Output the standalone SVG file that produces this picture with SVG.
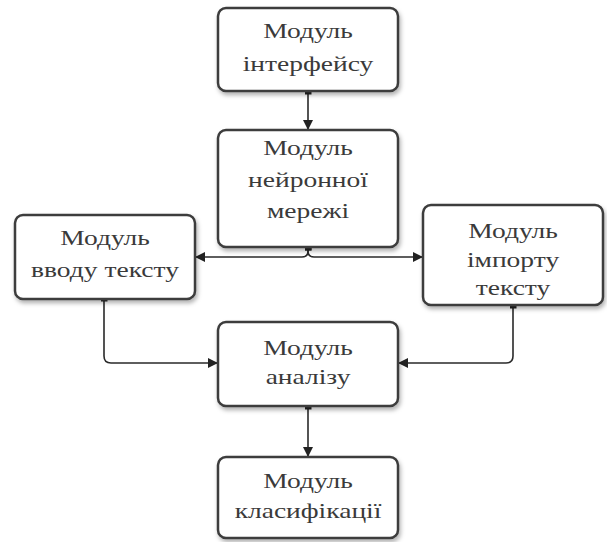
<svg xmlns="http://www.w3.org/2000/svg" width="607" height="542" viewBox="0 0 607 542">
<style>
.box{fill:#fff;stroke:#3c3c3c;stroke-width:2.5;filter:url(#sh)}
.lbl{font-family:"Liberation Serif","Times New Roman",serif;font-size:22px;fill:#3a3a3a;text-anchor:middle}
.con{fill:none;stroke:#2a2a2a;stroke-width:1.6;marker-start:url(#sq);marker-end:url(#ar)}
</style>
<defs>
<filter id="sh" x="-10%" y="-10%" width="125%" height="130%">
<feDropShadow dx="1.5" dy="3" stdDeviation="2.2" flood-color="#000" flood-opacity="0.3"/>
</filter>
<marker id="ar" markerUnits="userSpaceOnUse" markerWidth="11" markerHeight="11" refX="10" refY="5" orient="auto" viewBox="0 0 11 11">
<path d="M0,0 L10,5 L0,10 z" fill="#222"/>
</marker>
<marker id="sq" markerUnits="userSpaceOnUse" markerWidth="7" markerHeight="7" refX="3.5" refY="3.5" orient="auto" viewBox="0 0 7 7">
<rect x="0" y="0" width="7" height="7" fill="#222"/>
</marker>
</defs>
<g id="connectors">
<path class="con" d="M308,91 V130"/>
<path class="con" d="M308,247 V251 Q308,257 302,257 H195"/>
<path class="con" d="M308,247 V251 Q308,257 314,257 H423"/>
<path class="con" d="M104,298 V356 Q104,363 111,363 H218"/>
<path class="con" d="M513,305 V356 Q513,363 506,363 H398"/>
<path class="con" d="M308,406 V457"/>
</g>
<g id="n-interface">
<rect class="box" x="218" y="8" width="180" height="83" rx="8"/>
<text class="lbl" transform="translate(308,38) scale(1.25,1)"><tspan x="0" y="0">Модуль</tspan><tspan x="0" y="33">інтерфейсу</tspan></text>
</g>
<g id="n-neural">
<rect class="box" x="218" y="130" width="180" height="117" rx="8"/>
<text class="lbl" transform="translate(308,155) scale(1.25,1)"><tspan x="0" y="0">Модуль</tspan><tspan x="0" y="32">нейронної</tspan><tspan x="0" y="63">мережі</tspan></text>
</g>
<g id="n-input">
<rect class="box" x="15" y="215" width="180" height="84" rx="8"/>
<text class="lbl" transform="translate(105,245) scale(1.25,1)"><tspan x="0" y="0">Модуль</tspan><tspan x="0" y="32">вводу тексту</tspan></text>
</g>
<g id="n-import">
<rect class="box" x="423" y="205" width="180" height="100" rx="8"/>
<text class="lbl" transform="translate(513,238) scale(1.25,1)"><tspan x="0" y="0">Модуль</tspan><tspan x="0" y="29">імпорту</tspan><tspan x="0" y="57">тексту</tspan></text>
</g>
<g id="n-analysis">
<rect class="box" x="218" y="322" width="180" height="84" rx="8"/>
<text class="lbl" transform="translate(308,355) scale(1.25,1)"><tspan x="0" y="0">Модуль</tspan><tspan x="0" y="29">аналізу</tspan></text>
</g>
<g id="n-classification">
<rect class="box" x="218" y="457" width="180" height="81" rx="8"/>
<text class="lbl" transform="translate(308,488) scale(1.25,1)"><tspan x="0" y="0">Модуль</tspan><tspan x="0" y="30">класифікації</tspan></text>
</g>
</svg>
